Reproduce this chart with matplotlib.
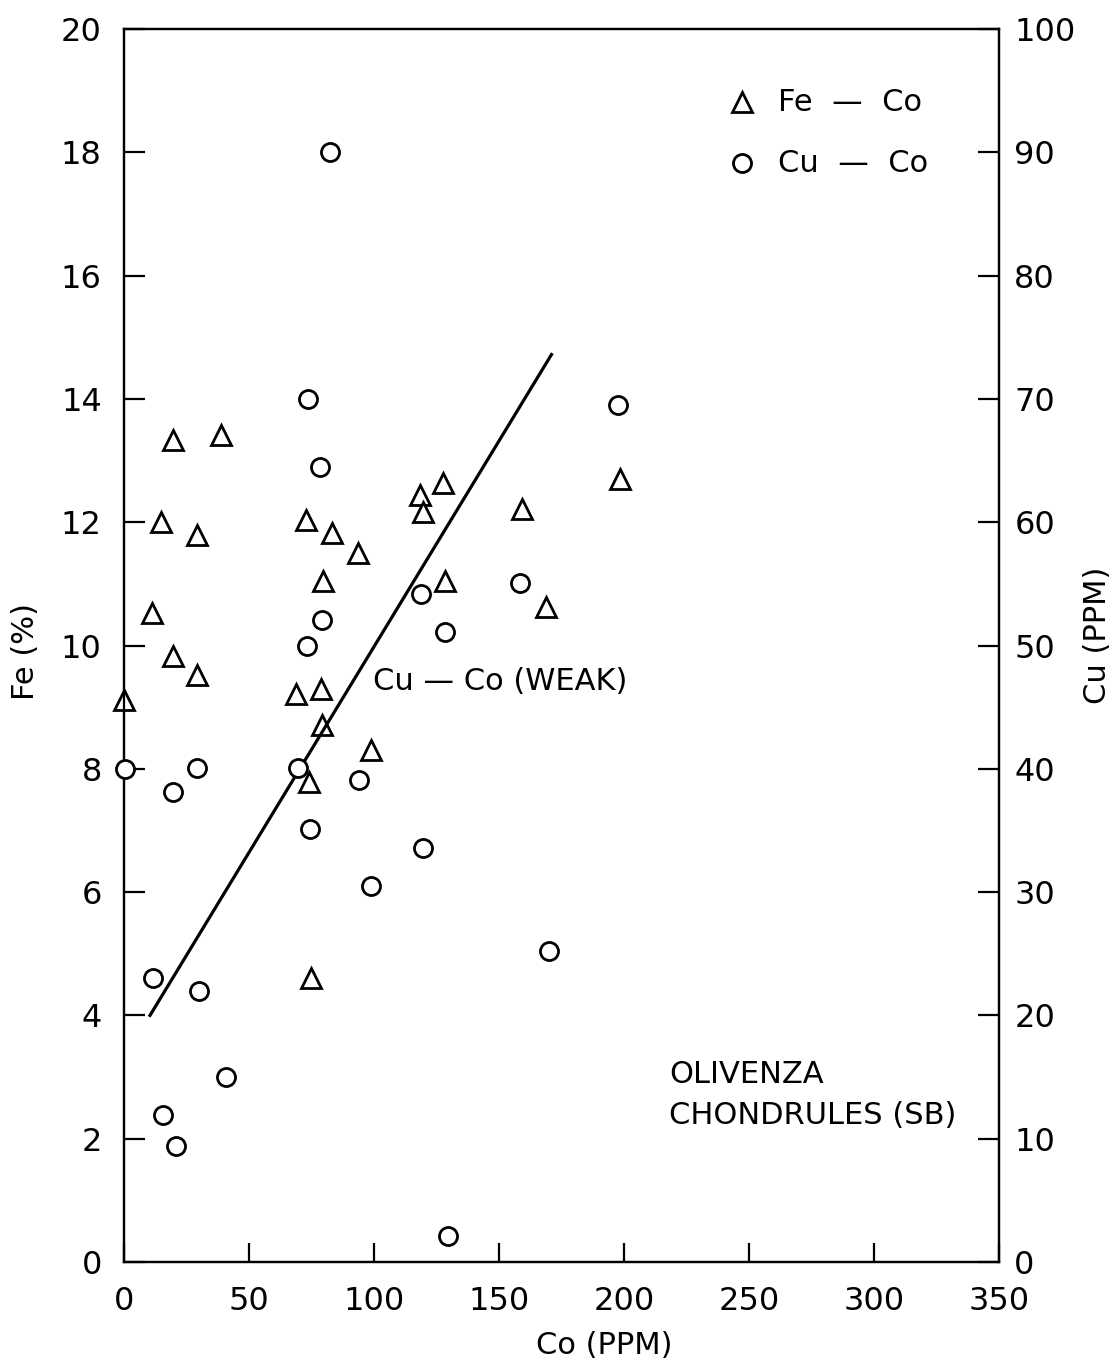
import matplotlib
matplotlib.use("Agg")
import matplotlib.pyplot as plt

# Fe - Co (triangles): Co ppm, Fe %
fe_co = [0, 11, 14.7, 19.7, 19.7, 29, 29, 38.7, 68.8, 72.8, 74.1, 74.7, 78.7,
         79, 79.5, 83.3, 93.7, 98.7, 118.4, 119.5, 127.7, 128.4, 159, 168.7, 198.4]
fe_val = [9.12, 10.53, 12.0, 13.33, 9.83, 11.79, 9.52, 13.41, 9.22, 12.04, 7.79, 4.6, 9.29,
          8.71, 11.04, 11.82, 11.5, 8.31, 12.44, 12.17, 12.63, 11.05, 12.21, 10.62, 12.7]

# Cu - Co (circles): Co ppm, Cu ppm
cu_co = [0.4, 11.7, 15.7, 19.7, 20.7, 29.3, 30, 40.7, 69.7, 73.3, 73.7, 74.4,
         78.4, 79.3, 82.4, 94, 98.7, 118.8, 119.5, 128.4, 129.7, 158.4, 170, 197.7]
cu_val = [40, 23, 11.9, 38.1, 9.4, 40.1, 22, 15, 40.1, 50, 70, 35.1,
          64.5, 52.1, 90, 39.1, 30.5, 54.2, 33.6, 51.1, 2.1, 55.1, 25.2, 69.5]

# hand drawn Cu - Co trend line (Co, Cu)
trend_co = [10.4, 171]
trend_cu = [20, 73.6]

x_ticks = [0, 50, 100, 150, 200, 250, 300, 350]
fe_ticks = [0, 2, 4, 6, 8, 10, 12, 14, 16, 18, 20]
cu_ticks = [0, 10, 20, 30, 40, 50, 60, 70, 80, 90, 100]

plt.rcParams['font.family'] = ['DejaVu Sans']

W, H = 1119, 1368
fig = plt.figure(figsize=(W / 100, H / 100), dpi=100)
ax = fig.add_axes([124 / W, 106 / H, 875 / W, 1233 / H])
ax2 = ax.twinx()

ax.plot(fe_co, fe_val, linestyle='none', marker='^', ms=15, mfc='white',
        mec='black', mew=2.0, clip_on=False, zorder=3)
ax2.plot(cu_co, cu_val, linestyle='none', marker='o', ms=13, mfc='white',
         mec='black', mew=2.0, clip_on=False, zorder=3)
ax2.plot(trend_co, trend_cu, color='black', lw=2.3, zorder=2)

ax.set_xlim(0, 350)
ax.set_ylim(0, 20)
ax2.set_ylim(0, 100)
ax.set_xticks(x_ticks)
ax.set_yticks(fe_ticks)
ax2.set_yticks(cu_ticks)
ax.set_xticklabels([str(v) for v in x_ticks])
ax.set_yticklabels([str(v) for v in fe_ticks])
ax2.set_yticklabels([str(v) for v in cu_ticks])

for a in (ax, ax2):
    for s in a.spines.values():
        s.set_linewidth(1.6)
ax.tick_params(axis='x', direction='in', length=14, width=1.6, pad=17, labelsize=23)
ax.tick_params(axis='y', direction='in', length=15, width=1.6, pad=16, labelsize=23)
ax2.tick_params(axis='y', direction='in', length=15, width=1.6, pad=11, labelsize=23)

fig.text(604 / W, 1 - 1345 / H, 'Co (PPM)', fontsize=22, ha='center', va='center')
fig.text(25 / W, 1 - 651 / H, 'Fe (%)', fontsize=22, ha='center', va='center', rotation=90)
fig.text(1097 / W, 1 - 635 / H, 'Cu (PPM)', fontsize=22, ha='center', va='center', rotation=90)

# legend
ax.plot([0.706], [0.9405], transform=ax.transAxes, linestyle='none', marker='^', ms=15,
        mfc='white', mec='black', mew=2.0)
ax.plot([0.706], [0.891], transform=ax.transAxes, linestyle='none', marker='o', ms=13,
        mfc='white', mec='black', mew=2.0)
ax.text(0.747, 0.9405, 'Fe  —  Co', transform=ax.transAxes, fontsize=22, va='center')
ax.text(0.747, 0.891, 'Cu  —  Co', transform=ax.transAxes, fontsize=22, va='center')

ax.text((373 - 124) / 875, (1262 - 682) / 1233, 'Cu — Co (WEAK)',
        transform=ax.transAxes, fontsize=22, va='center')
ax.text((669 - 124) / 875, (1262 - 1095) / 1233, 'OLIVENZA\nCHONDRULES (SB)',
        transform=ax.transAxes, fontsize=22, va='center', linespacing=1.5)

fig.savefig('out.png', dpi=100, facecolor='white')
